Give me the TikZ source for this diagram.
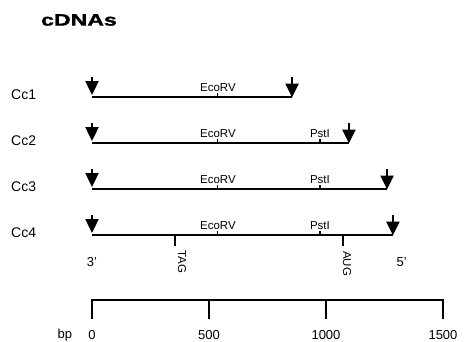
\documentclass[tikz,border=0pt]{standalone}
\usepackage{fontspec}
\setmainfont{Liberation Sans}
\usetikzlibrary{arrows.meta, positioning}

\begin{document}
\begin{tikzpicture}[x=1pt, y=-1pt]

        % Define styles
        \tikzstyle{clone} = [draw, line width=1.8pt]
        \tikzstyle{site} = [draw, line width=1.2pt]
        \tikzstyle{endmark} = [draw, line width=2.4pt, -{Triangle[width=13pt,length=14pt]}]
        \tikzstyle{sitelabel} = [font=\fontsize{11.5}{12}\selectfont, above=1pt, inner sep=0pt]
        \tikzstyle{codon} = [font=\fontsize{11.5}{12}\selectfont, rotate=-90, anchor=west, inner sep=0pt]
        \tikzstyle{ccname} = [font=\fontsize{14}{14}\selectfont, anchor=west, inner sep=0pt]
        \tikzstyle{scalelabel} = [font=\fontsize{13}{13}\selectfont, inner sep=0pt]
        \tikzstyle{bar} = [draw, line width=1.8pt]

        \useasboundingbox (0,0) rectangle (467,341);

        % Title and clone names
        \node [inner sep=0pt] (title) at (79,20) {\scalebox{1.4}[1]{\fontsize{16.5}{16.5}\selectfont\bfseries\addfontfeature{FakeBold=1.2}cDNAs}};
        \node [ccname] (cc1) at (11,95) {Cc1};
        \node [ccname] (cc2) at (11,141) {Cc2};
        \node [ccname] (cc3) at (11,187) {Cc3};
        \node [ccname] (cc4) at (11,233) {Cc4};

        \begin{scope}[shift={(92,0)}, x=0.234pt]
        % Place coordinates
        \coordinate (c1a) at (0,97);   \coordinate (c1b) at (855,97);
        \coordinate (c2a) at (0,143);  \coordinate (c2b) at (1098,143);
        \coordinate (c3a) at (0,189);  \coordinate (c3b) at (1261,189);
        \coordinate (c4a) at (0,235);  \coordinate (c4b) at (1286,235);
        \coordinate (s0) at (0,300);   \coordinate (s500) at (500,300);
        \coordinate (s1000) at (1000,300); \coordinate (s1500) at (1500,300);

        % Draw clones
        \path [clone] (c1a) -- (c1b);
        \path [clone] (c2a) -- (c2b);
        \path [clone] (c3a) -- (c3b);
        \path [clone] (c4a) -- (c4b);

        % Restriction sites
        \draw [site] (538,97) -- ++(0,-4) node [sitelabel] (eco1) {EcoRV};
        \draw [site] (538,143) -- ++(0,-4) node [sitelabel] (eco2) {EcoRV};
        \draw [site] (974,143) -- ++(0,-4) node [sitelabel] (pst2) {PstI};
        \draw [site] (538,189) -- ++(0,-4) node [sitelabel] (eco3) {EcoRV};
        \draw [site] (974,189) -- ++(0,-4) node [sitelabel] (pst3) {PstI};
        \draw [site] (538,235) -- ++(0,-4) node [sitelabel] (eco4) {EcoRV};
        \draw [site] (974,235) -- ++(0,-4) node [sitelabel] (pst4) {PstI};

        % Ends
        \path [endmark] ([yshift=20pt]c1a) -- ([yshift=2pt]c1a);
        \path [endmark] ([yshift=20pt]c1b) -- ([yshift=-0.5pt]c1b);
        \path [endmark] ([yshift=20pt]c2a) -- ([yshift=2pt]c2a);
        \path [endmark] ([yshift=20pt]c2b) -- ([yshift=-0.5pt]c2b);
        \path [endmark] ([yshift=20pt]c3a) -- ([yshift=2pt]c3a);
        \path [endmark] ([yshift=20pt]c3b) -- ([yshift=-0.5pt]c3b);
        \path [endmark] ([yshift=20pt]c4a) -- ([yshift=2pt]c4a);
        \path [endmark] ([yshift=20pt]c4b) -- ([yshift=-0.5pt]c4b);

        % Stop and start codons
        \draw [site] (355,235) -- (355,246);
        \draw [site] (1073,235) -- (1073,246);
        \node [codon] (tag) at (385,250) {TAG};
        \node [codon] (aug) at (1090,251) {AUG};
        \node [scalelabel] (three) at (0,262) {3'};
        \node [scalelabel] (five) at (1324,262) {5'};

        % Scale bar
        \path [bar] ([yshift=-19pt]s0) -- (s0) -- (s1500) -- ([yshift=-19pt]s1500);
        \path [bar] (s500) -- ([yshift=-19pt]s500);
        \path [bar] (s1000) -- ([yshift=-19pt]s1000);
        \node [scalelabel] (n0) at (0,335) {0};
        \node [scalelabel] (n500) at (500,335) {500};
        \node [scalelabel] (n1000) at (1000,335) {1000};
        \node [scalelabel] (n1500) at (1500,335) {1500};
        \node [scalelabel, left=16pt of n0] (bp) {bp};
        \end{scope}

\end{tikzpicture}
\end{document}
